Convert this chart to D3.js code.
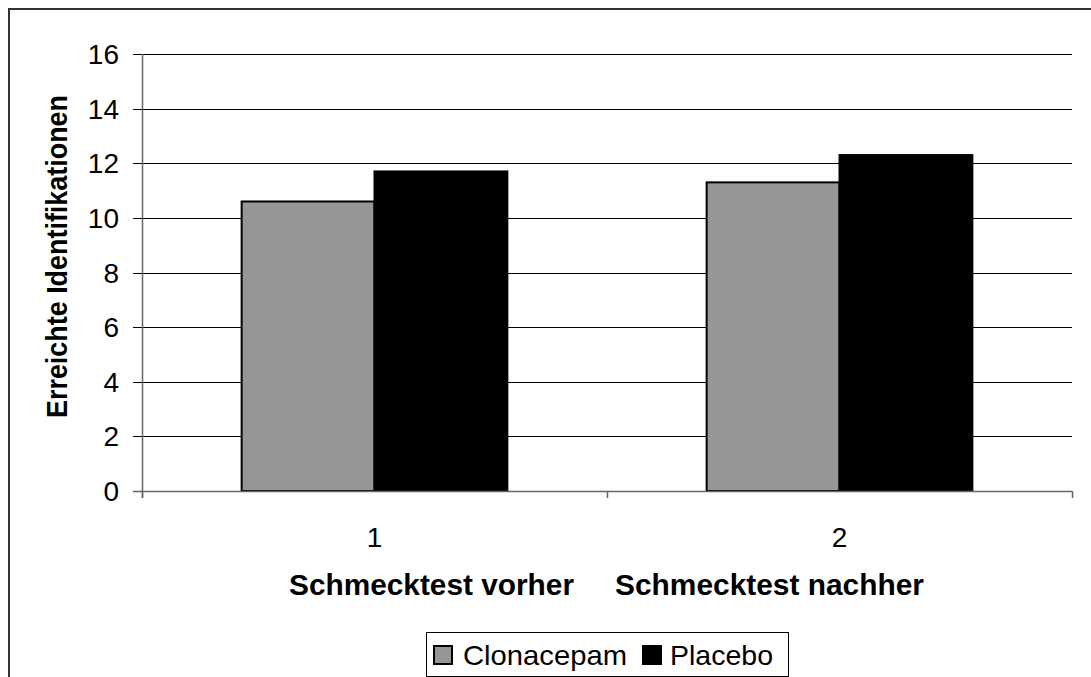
<!DOCTYPE html>
<html>
<head>
<meta charset="utf-8">
<script src="https://cdn.jsdelivr.net/npm/d3@7"></script>
<style>
  html, body { margin: 0; padding: 0; background: #fff; }
  svg { display: block; font-family: "Liberation Sans", Arial, Helvetica, sans-serif; }
</style>
</head>
<body>
<svg id="chart" width="1091" height="677"></svg>
<script>
// Chart data
const categories = ["1", "2"];
const seriesNames = ["Clonacepam", "Placebo"];
const clonacepam = [10.6, 11.3];
const placebo = [11.7, 12.3];
const yTicks = [0, 2, 4, 6, 8, 10, 12, 14, 16];
const yTitle = "Erreichte Identifikationen";
const xTitleParts = ["Schmecktest vorher", "Schmecktest nachher"];

const colors = { Clonacepam: "#969696", Placebo: "#000000" };

const svg = d3.select("#chart");
const W = 1091, H = 677;

// Outer frame
svg.append("rect")
  .attr("x", 9).attr("y", 9)
  .attr("width", W + 20).attr("height", H + 20)
  .attr("fill", "#fff").attr("stroke", "#333").attr("stroke-width", 2);

const plot = { left: 142, right: 1072, top: 54, bottom: 491 };

const y = d3.scaleLinear().domain([0, 16]).range([plot.bottom, plot.top]);
const x = d3.scaleBand().domain(categories).range([plot.left, plot.right]).padding(0);
// two bars per category, gap width 150%
const groupW = x.step() * 2 / 3.5;
const xs = d3.scaleBand().domain(seriesNames).range([0, groupW]).padding(0);

// Gridlines with left tick marks
const grid = svg.append("g");
grid.selectAll("line.grid")
  .data(yTicks.filter(d => d > 0))
  .join("line")
  .attr("x1", plot.left - 9).attr("x2", plot.right)
  .attr("y1", d => Math.round(y(d)) + 0.5).attr("y2", d => Math.round(y(d)) + 0.5)
  .attr("stroke", "#000").attr("stroke-width", 1);

// Y tick labels
svg.append("g").selectAll("text")
  .data(yTicks)
  .join("text")
  .attr("x", 119)
  .attr("y", d => y(d) + 10)
  .attr("text-anchor", "end")
  .attr("font-size", 28)
  .attr("fill", "#000")
  .text(d => d);

// Bars
const rows = categories.map((c, i) => ({ cat: c, values: [
  { name: "Clonacepam", v: clonacepam[i] },
  { name: "Placebo", v: placebo[i] }
]}));

const groups = svg.append("g").selectAll("g")
  .data(rows)
  .join("g")
  .attr("transform", d => `translate(${x(d.cat) + (x.step() - groupW) / 2},0)`);

groups.selectAll("rect")
  .data(d => d.values)
  .join("rect")
  .attr("x", d => xs(d.name))
  .attr("y", d => y(d.v))
  .attr("width", xs.bandwidth())
  .attr("height", d => y(0) - y(d.v))
  .attr("fill", d => colors[d.name])
  .attr("stroke", "#000")
  .attr("stroke-width", 2);

// Axes lines
const axisColor = "#666";
svg.append("line")
  .attr("x1", plot.left + 0.5).attr("x2", plot.left + 0.5)
  .attr("y1", plot.top).attr("y2", plot.bottom + 7)
  .attr("stroke", axisColor).attr("stroke-width", 1.5);
svg.append("line")
  .attr("x1", plot.left - 9).attr("x2", plot.right)
  .attr("y1", plot.bottom + 0.5).attr("y2", plot.bottom + 0.5)
  .attr("stroke", axisColor).attr("stroke-width", 1.5);

// X category boundary ticks
const xBounds = [plot.left, plot.left + x.step(), plot.right];
svg.append("g").selectAll("line")
  .data(xBounds)
  .join("line")
  .attr("x1", d => d + 0.5).attr("x2", d => d + 0.5)
  .attr("y1", plot.bottom).attr("y2", plot.bottom + 7)
  .attr("stroke", axisColor).attr("stroke-width", 1.5);

// X tick labels
svg.append("g").selectAll("text")
  .data(categories)
  .join("text")
  .attr("x", d => x(d) + x.bandwidth() / 2)
  .attr("y", 547)
  .attr("text-anchor", "middle")
  .attr("font-size", 28)
  .text(d => d);

// X title
svg.append("text")
  .attr("x", 289).attr("y", 595)
  .attr("font-size", 30).attr("font-weight", "bold")
  .attr("textLength", 285).attr("lengthAdjust", "spacingAndGlyphs")
  .text(xTitleParts[0]);
svg.append("text")
  .attr("x", 615).attr("y", 595)
  .attr("font-size", 30).attr("font-weight", "bold")
  .attr("textLength", 309).attr("lengthAdjust", "spacingAndGlyphs")
  .text(xTitleParts[1]);

// Y title
svg.append("text")
  .attr("transform", "translate(67,418) rotate(-90)")
  .attr("font-size", 29).attr("font-weight", "bold")
  .attr("textLength", 323).attr("lengthAdjust", "spacingAndGlyphs")
  .text(yTitle);

// Legend
const legend = svg.append("g");
legend.append("rect")
  .attr("x", 426.5).attr("y", 632.5)
  .attr("width", 362).attr("height", 44)
  .attr("fill", "#fff").attr("stroke", "#000").attr("stroke-width", 1);

const legendItems = [
  { name: "Clonacepam", sx: 434, tx: 463, w: 164 },
  { name: "Placebo", sx: 643, tx: 670, w: 103 }
];
legendItems.forEach(it => {
  legend.append("rect")
    .attr("x", it.sx).attr("y", 646)
    .attr("width", 18).attr("height", 18)
    .attr("fill", colors[it.name]).attr("stroke", "#000").attr("stroke-width", 2);
  legend.append("text")
    .attr("x", it.tx).attr("y", 665)
    .attr("font-size", 28.5)
    .attr("textLength", it.w).attr("lengthAdjust", "spacingAndGlyphs")
    .text(it.name);
});
</script>
</body>
</html>
